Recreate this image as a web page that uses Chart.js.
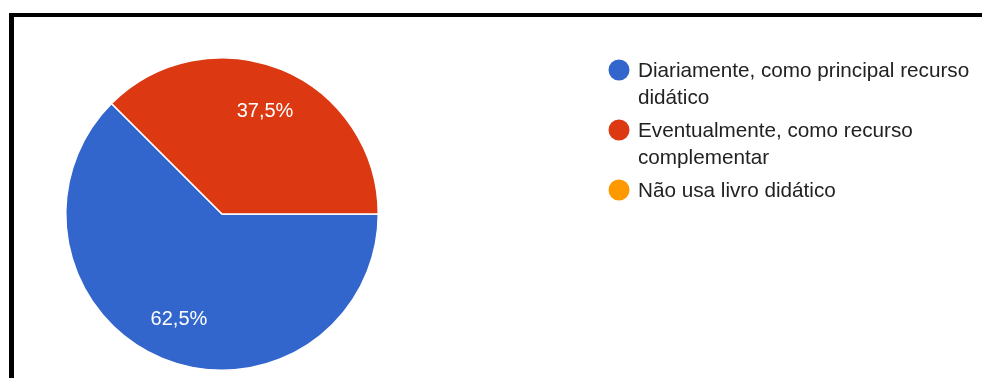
<!DOCTYPE html>
<html>
<head>
<meta charset="utf-8">
<script src="https://cdn.jsdelivr.net/npm/chart.js@4/dist/chart.umd.min.js"></script>
<style>
  html, body { margin: 0; padding: 0; background: #fff; }
  #wrap { position: relative; width: 982px; height: 378px; overflow: hidden; }
  #frame { position: absolute; left: 9px; top: 13px; width: 1100px; height: 500px;
           border-top: 4px solid #000; border-left: 5px solid #000; box-sizing: border-box; }
  canvas { position: absolute; left: 0; top: 0; }
</style>
</head>
<body>
<div id="wrap">
  <div id="frame"></div>
  <canvas id="c" width="982" height="378"></canvas>
</div>
<script>
const categories = [
  "Diariamente, como principal recurso didático",
  "Eventualmente, como recurso complementar",
  "Não usa livro didático"
];
const percentages = [62.5, 37.5, 0];
const colors = ["#3366cc", "#dc3912", "#ff9900"];

const FONT = "'Liberation Sans', Arial, sans-serif";

const sliceLabels = {
  id: "sliceLabels",
  afterDatasetsDraw(chart) {
    const ctx = chart.ctx;
    const meta = chart.getDatasetMeta(0);
    const data = chart.data.datasets[0].data;
    ctx.save();
    ctx.fillStyle = "#ffffff";
    ctx.font = "20px " + FONT;
    ctx.textAlign = "center";
    ctx.textBaseline = "middle";
    meta.data.forEach((arc, i) => {
      if (!data[i]) return;
      const p = arc.getProps(["x", "y", "startAngle", "endAngle", "outerRadius"], true);
      const mid = (p.startAngle + p.endAngle) / 2;
      const r = p.outerRadius * 0.72;
      const txt = data[i].toFixed(1).replace(".", ",") + "%";
      ctx.fillText(txt, p.x + Math.cos(mid) * r, p.y + Math.sin(mid) * r + 1.5);
    });
    ctx.restore();
  }
};

const sideLegend = {
  id: "sideLegend",
  afterDraw(chart) {
    const ctx = chart.ctx;
    const x0 = 619, textX = 638, maxW = 345, lineH = 27;
    let y = 70;
    ctx.save();
    ctx.font = "20.7px " + FONT;
    ctx.textBaseline = "middle";
    chart.data.labels.forEach((label, i) => {
      ctx.fillStyle = chart.data.datasets[0].backgroundColor[i];
      ctx.beginPath();
      ctx.arc(x0, y, 10.5, 0, Math.PI * 2);
      ctx.fill();
      const words = label.split(" ");
      const lines = [];
      let cur = "";
      words.forEach(w => {
        const test = cur ? cur + " " + w : w;
        if (ctx.measureText(test).width > maxW && cur) { lines.push(cur); cur = w; }
        else cur = test;
      });
      if (cur) lines.push(cur);
      ctx.fillStyle = "#222222";
      lines.forEach((ln, k) => ctx.fillText(ln, textX, y + 1 + k * lineH));
      y += lines.length * lineH + 6;
    });
    ctx.restore();
  }
};

new Chart(document.getElementById("c"), {
  type: "pie",
  data: {
    labels: categories,
    datasets: [{
      data: percentages,
      backgroundColor: colors,
      borderColor: "#ffffff",
      borderWidth: 1.5
    }]
  },
  options: {
    responsive: false,
    animation: false,
    rotation: 90,
    layout: { padding: { left: 65, right: 603, top: 57, bottom: 7 } },
    plugins: {
      legend: { display: false },
      tooltip: { enabled: false }
    }
  },
  plugins: [sliceLabels, sideLegend]
});
</script>
</body>
</html>
